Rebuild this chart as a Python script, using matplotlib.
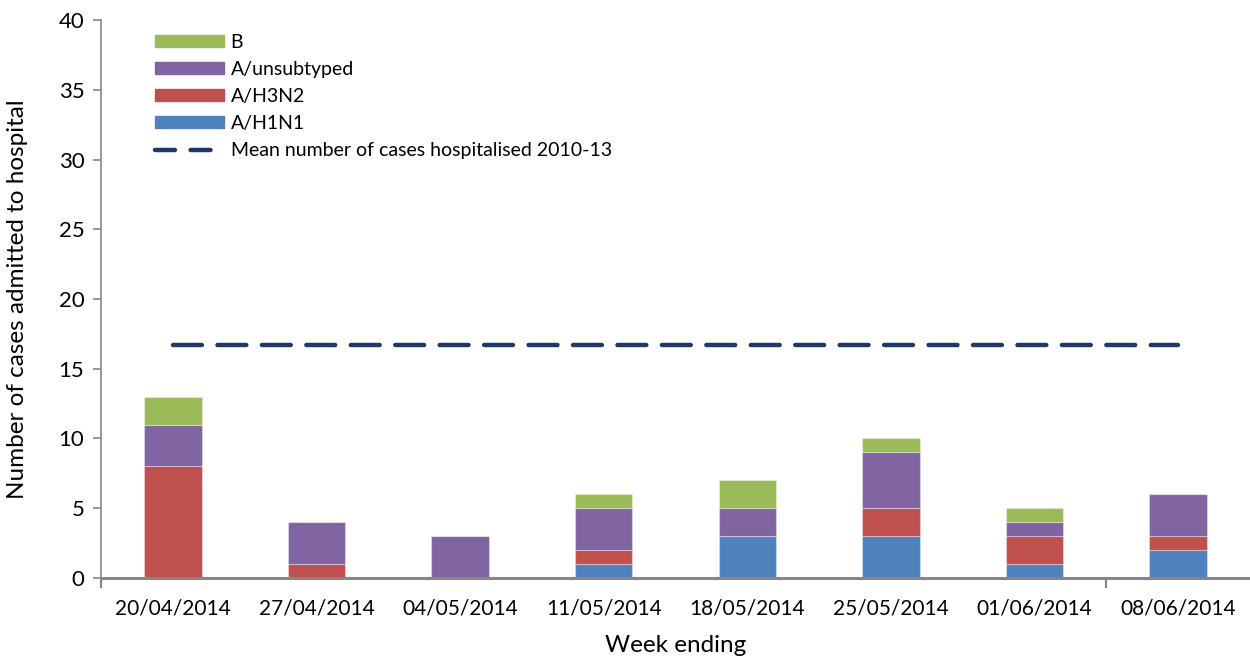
import matplotlib
matplotlib.use("Agg")
import matplotlib.pyplot as plt
from matplotlib.patches import Patch
from matplotlib.lines import Line2D
import numpy as np

weeks = ["20/04/2014", "27/04/2014", "04/05/2014", "11/05/2014",
         "18/05/2014", "25/05/2014", "01/06/2014", "08/06/2014"]
h1n1 = [0, 0, 0, 1, 3, 3, 1, 2]
h3n2 = [8, 1, 0, 1, 0, 2, 2, 1]
unsub = [3, 3, 3, 3, 2, 4, 1, 3]
b_vals = [2, 0, 0, 1, 2, 1, 1, 0]
mean_2010_13 = 16.7

c_h1 = "#4F81BD"
c_h3 = "#C0504D"
c_un = "#8064A2"
c_b = "#9BBB59"
c_mean = "#1F3864"
grey = "#868686"

plt.rcParams['font.family'] = ['Lato', 'DejaVu Sans']

fig = plt.figure(figsize=(12.5, 6.61), dpi=100)
ax = fig.add_axes([0.0808, 0.1256, 0.9192, 0.8441])

x = np.arange(len(weeks))
w = 0.4
bottom = np.zeros(len(weeks))
for vals, col in [(h1n1, c_h1), (h3n2, c_h3), (unsub, c_un), (b_vals, c_b)]:
    ax.bar(x, vals, w, bottom=bottom, color=col, edgecolor=(1, 1, 1, 0.35), linewidth=0.8, zorder=2)
    bottom += np.array(vals)

ax.plot([x[0], x[-1]], [mean_2010_13, mean_2010_13], color=c_mean, lw=3.2,
        dashes=(6.5, 3.5), dash_capstyle='round', zorder=3)

ax.set_xlim(-0.5, len(weeks) - 0.5)
ax.set_ylim(0, 40)
ax.set_yticks(np.arange(0, 41, 5))
ax.set_xticks(x)
ax.set_xticklabels(weeks)
ax.set_xticks([-0.5, 6.5], minor=True)
ax.tick_params(axis='x', which='major', length=0, pad=15, labelsize=15)
ax.tick_params(axis='x', which='minor', length=7, width=1.5, color=grey)
ax.tick_params(axis='y', length=6, width=1.2, color=grey, labelsize=16, pad=6)

for s in ['top', 'right']:
    ax.spines[s].set_visible(False)
for s in ['left', 'bottom']:
    ax.spines[s].set_color(grey)
ax.spines['left'].set_linewidth(1.2)
ax.spines['bottom'].set_linewidth(2.2)

ax.set_xlabel("Week ending", fontsize=17.5, labelpad=12)
ax.set_ylabel("Number of cases admitted to hospital", fontsize=17.5, labelpad=22)

handles = [Patch(color=c_b), Patch(color=c_un), Patch(color=c_h3), Patch(color=c_h1),
           Line2D([], [], color=c_mean, lw=3.2, dashes=(4.5, 3.5), dash_capstyle='round')]
labels = ["B", "A/unsubtyped", "A/H3N2", "A/H1N1", "Mean number of cases hospitalised 2010-13"]
leg = ax.legend(handles, labels, loc='upper left', bbox_to_anchor=(0.035, 1.0), frameon=False,
                fontsize=14, handlelength=3.55, handleheight=0.6, handletextpad=0.35,
                labelspacing=0.52, borderaxespad=0.3)

fig.savefig("out.png", dpi=100)
